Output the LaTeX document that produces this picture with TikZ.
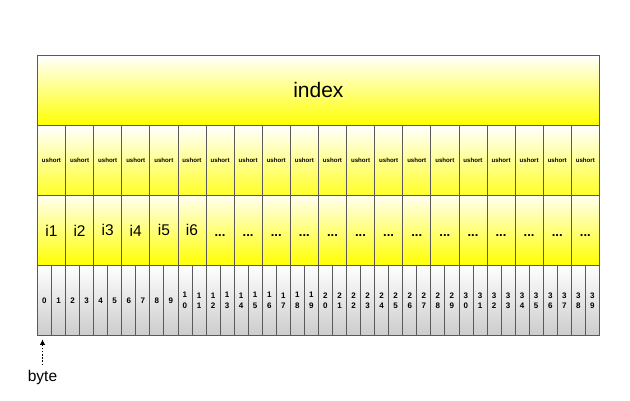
\documentclass[tikz,border=0pt]{standalone}
\usepackage{fontspec}
\setmainfont{Liberation Sans}
\usetikzlibrary{arrows.meta}
\begin{document}
\begin{tikzpicture}[x=1pt,y=-1pt,
  cellbase/.style={rectangle,draw=black!65,line width=0.8pt,inner sep=0pt,anchor=north west},
  idxbox/.style={cellbase,top color=white,bottom color=yellow,minimum width=562pt,minimum height=70pt,font=\fontsize{21}{23}\selectfont},
  ushortbox/.style={cellbase,top color=white,bottom color=yellow!85,minimum width=28.1pt,minimum height=70pt,font=\bfseries\fontsize{6.1}{7}\selectfont},
  ibox/.style={cellbase,top color=yellow!6,bottom color=yellow,minimum width=28.1pt,minimum height=70pt,font=\fontsize{15.5}{17}\selectfont},
  bytebox/.style={cellbase,top color=white,bottom color=black!20,minimum width=14.05pt,minimum height=70pt,font=\bfseries\fontsize{8}{10.3}\selectfont,align=center},
  lbl/.style={font=\fontsize{15.5}{17}\selectfont}
]
\useasboundingbox (0,0) rectangle (630,400);
\node[idxbox] (index) at (37,55) {index};
\foreach \k in {0,...,19}{
  \node[ushortbox] (u\k) at ({37+28.1*\k},125) {ushort};
}
\foreach \k/\t in {0/i1,1/i2,2/i3,3/i4,4/i5,5/i6}{
  \node[ibox] (i\k) at ({37+28.1*\k},195) {\t};
}
\foreach \k in {6,...,19}{
  \node[ibox] (i\k) at ({37+28.1*\k},195) {\vphantom{i1}{\bfseries\fontsize{13}{15}\selectfont...}};
}
\foreach \k in {0,...,9}{
  \node[bytebox] (b\k) at ({37+14.05*\k},265) {\k};
}
\foreach \k in {10,...,39}{
  \pgfmathtruncatemacro{\ta}{int(\k/10)}
  \pgfmathtruncatemacro{\tb}{mod(\k,10)}
  \node[bytebox] (b\k) at ({37+14.05*\k},265) {\ta\\\tb};
}
\node[lbl] (byte) at (42.5,377) {byte};
\draw[line width=1.4pt,dash pattern=on 1.6pt off 1.6pt,-{Latex[length=5.5pt,width=5.5pt,sep=0pt]}] ([yshift=1pt]byte.north) -- ([yshift=-3.5pt]b0.south -| byte.north);
\end{tikzpicture}
\end{document}
